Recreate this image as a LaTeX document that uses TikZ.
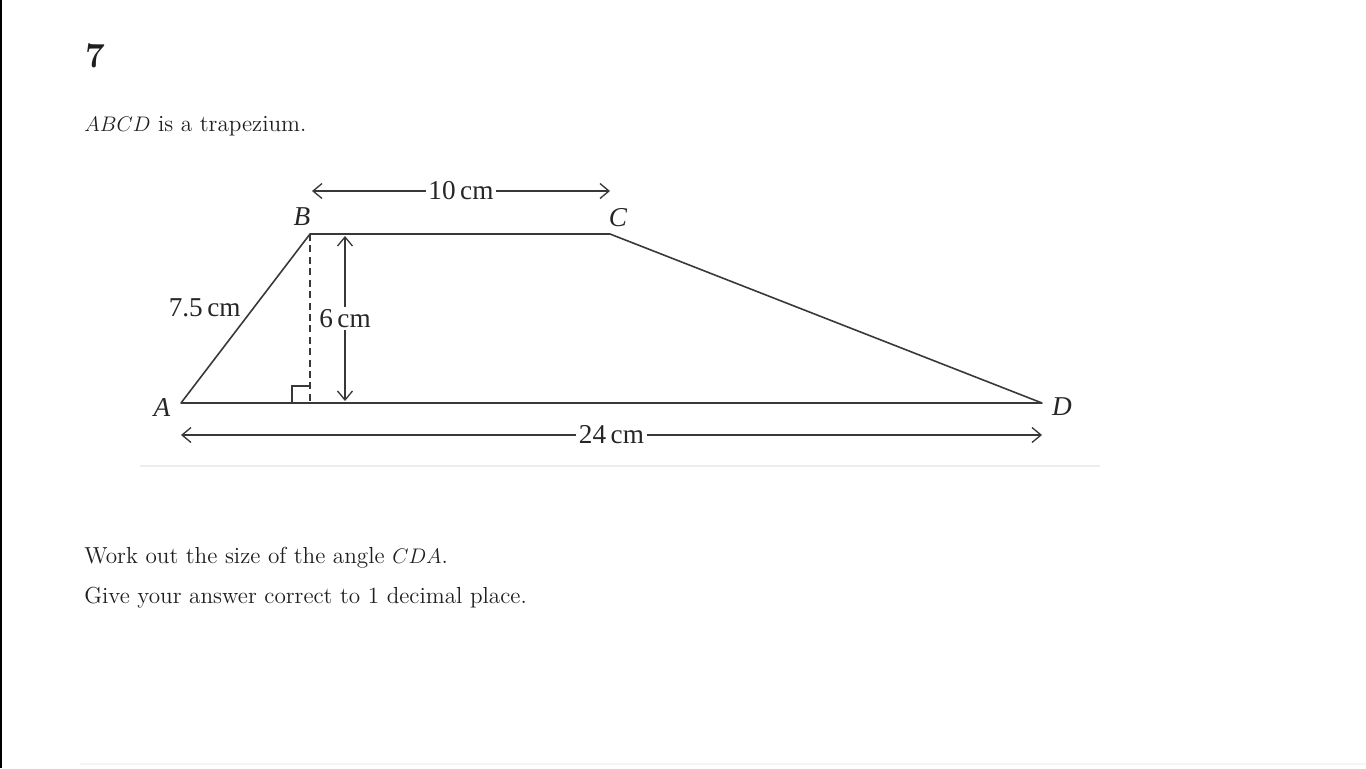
\documentclass[tikz,border=0pt]{standalone}
\usepackage{fontspec}
\newfontfamily\figfont{Liberation Serif}
\usetikzlibrary{arrows.meta,calc}

\begin{document}
\begin{tikzpicture}[x=0.02cm,y=-0.02cm,
	edge/.style={line width=0.9pt, color=black!78},
	dim/.style={line width=0.75pt, color=black!78, {Straight Barb[length=1.8mm,width=3mm]}-{Straight Barb[length=1.8mm,width=3mm]}},
	lbl/.style={font=\figfont\fontsize{15.5}{16}\selectfont, fill=white, inner sep=1.5pt, text=black!85},
	vtx/.style={font=\figfont\itshape\fontsize{15.5}{16}\selectfont, inner sep=0, text=black!85},
	txt/.style={font=\fontsize{13.2}{15}\selectfont, anchor=base west, inner sep=0, text=black!88}]
			%%%%% START %%%%%
			
			\useasboundingbox (0, 0) rectangle (1366, 768);
			\fill[white] (0, 0) rectangle (1366, 768);
			\draw[line width=1.2pt] (1, 0) -- (1, 768);
			
			\node[txt, font=\fontsize{20}{24}\selectfont\bfseries] (num) at (85, 67) {7};
			\node[txt] (intro) at (84, 131) {$ABCD$ is a trapezium.};
			
			\coordinate (A) at (181, 403);
			\coordinate (B) at (310, 234);
			\coordinate (C) at (610, 234);
			\coordinate (D) at (1042, 403);
			\coordinate (F) at (310, 403);
			
			\draw[edge, line join=round] (A) -- (B) -- (C) -- (D) -- cycle;
			\draw[edge, line width=0.7pt, dash pattern=on 4pt off 2.5pt] (B) -- (F);
			\draw[edge, line width=0.7pt] ($(F)+(-18, 0)$) -- ++(0, -17) -- ++(18, 0);
			
			\node[vtx] (la) at (162, 408) {A};
			\node[vtx] (lb) at (302, 217) {B};
			\node[vtx] (lc) at (618, 218) {C};
			\node[vtx] (ld) at (1062, 407) {D};
			
			\coordinate (t1) at (312, 191);
			\coordinate (t2) at (610, 191);
			\draw[dim] (t1) -- (t2) node[midway, lbl] (top) {10\,cm};
			
			\coordinate (h1) at (345, 236);
			\coordinate (h2) at (345, 401);
			\draw[dim] (h1) -- (h2) node[midway, lbl] (hgt) {6\,cm};
			
			\coordinate (b1) at (181, 435);
			\coordinate (b2) at (1042, 435);
			\draw[dim] (b1) -- (b2) node[midway, lbl] (base) {24\,cm};
			
			\node[vtx, anchor=base east] (slant) at (241, 316) {\upshape 7.5\,cm};
			
			\draw[black!7, line width=0.6pt] (140, 466) -- (1100, 466);
			\draw[black!4, line width=0.6pt] (80, 764) -- (1366, 764);
			
			\node[txt] (ask) at (84, 563) {Work out the size of the angle $CDA$.};
			\node[txt] (give) at (84, 603) {Give your answer correct to 1 decimal place.};
			
			%%%%% END %%%%%
\end{tikzpicture}
\end{document}
